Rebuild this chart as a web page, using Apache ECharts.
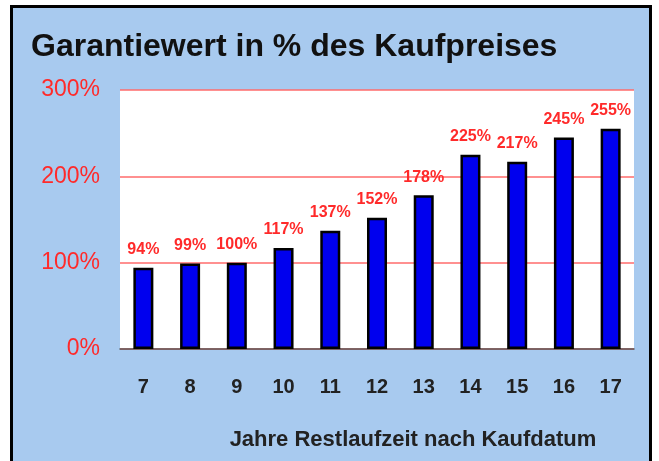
<!DOCTYPE html>
<html>
<head>
<meta charset="utf-8">
<script src="https://cdn.jsdelivr.net/npm/echarts@6/dist/echarts.min.js"></script>
<style>
  html, body { margin: 0; padding: 0; background: #ffffff; }
  #chart { width: 659px; height: 461px; }
</style>
</head>
<body>
<div id="chart"></div>
<script>
// Jahre Restlaufzeit
const years = ['7', '8', '9', '10', '11', '12', '13', '14', '15', '16', '17'];
// Garantiewert in %
const values = [94, 99, 100, 117, 137, 152, 178, 225, 217, 245, 255];

const chart = echarts.init(document.getElementById('chart'));

const option = {
    backgroundColor: '#ffffff',
    textStyle: { fontFamily: 'Liberation Sans, Arial, sans-serif' },
    graphic: [
        {
            type: 'rect',
            z: -10,
            shape: { x: 11.5, y: 6.5, width: 639, height: 460 },
            style: { fill: '#a8caef', stroke: '#000000', lineWidth: 3 },
            silent: true,
        },
    ],
    title: {
        text: 'Garantiewert in % des Kaufpreises',
        left: 26,
        top: 26,
        textStyle: {
            fontSize: 32,
            fontWeight: 'bold',
            color: '#111111',
        },
    },
    grid: {
        left: 120,
        right: 25,
        top: 90,
        bottom: 112,
        show: true,
        backgroundColor: '#ffffff',
        borderWidth: 0,
    },
    xAxis: {
        type: 'category',
        data: years,
        axisTick: { show: false },
        axisLine: { lineStyle: { color: '#555555', width: 1.5 } },
        axisLabel: {
            color: '#222222',
            fontSize: 20,
            fontWeight: 'bold',
            margin: 28,
        },
        name: 'Jahre Restlaufzeit nach Kaufdatum',
        nameLocation: 'middle',
        nameGap: 80,
        nameTextStyle: {
            color: '#222222',
            fontSize: 22,
            fontWeight: 'bold',
            padding: [0, 0, 0, 72],
        },
    },
    yAxis: {
        type: 'value',
        min: 0,
        max: 300,
        interval: 100,
        axisLine: { show: false },
        axisTick: { show: false },
        axisLabel: {
            formatter: '{value}%',
            color: '#ff2a2a',
            fontSize: 23,
            margin: 20,
        },
        splitLine: { lineStyle: { color: '#ff6b6b', width: 1.5 } },
    },
    series: [
        {
            type: 'bar',
            data: values,
            barWidth: 20,
            itemStyle: {
                color: '#0000ee',
                borderColor: '#000000',
                borderWidth: 2.5,
            },
            label: {
                show: true,
                position: 'top',
                distance: 10,
                formatter: '{c}%',
                color: '#ff2a2a',
                fontSize: 16,
                fontWeight: 'bold',
            },
        },
    ],
};

chart.setOption(option);
</script>
</body>
</html>
